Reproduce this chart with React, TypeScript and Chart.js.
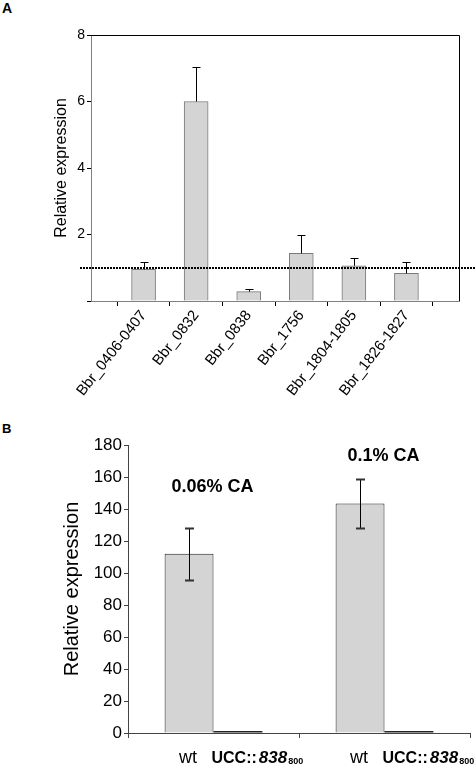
import React, { useEffect, useRef } from 'react';
import { Chart, registerables } from 'chart.js';

Chart.register(...registerables);

// ---------- Panel A data ----------
const genesA = ['Bbr_0406-0407', 'Bbr_0832', 'Bbr_0838', 'Bbr_1756', 'Bbr_1804-1805', 'Bbr_1826-1827'];
const valuesA = [0.95, 6.0, 0.28, 1.43, 1.06, 0.83];
const errorsA = [0.23, 1.04, 0.09, 0.57, 0.24, 0.35];
const yMaxA = 8;
const yStepA = 2;
const baselineA = 1;

// ---------- Panel B data ----------
const conditionsB = ['0.06% CA', '0.1% CA'];
const conditionLabelYB = [154, 173];
const wtB = [112, 143.5];
const wtErrB = [16.4, 15.5];
const mutantB = [1.2, 1.2];
const wtLabelB = 'wt';
const mutantLabelB = ['UCC::', '838', '800'];
const yMaxB = 180;
const yStepB = 20;

const FONT = '"Liberation Sans", Arial, Helvetica, sans-serif';

const panelAPlugin = {
  id: 'panelAExtras',
  afterDatasetsDraw(chart: any) {
    const { ctx, chartArea: ca, scales } = chart;
    const meta = chart.getDatasetMeta(0);
    ctx.save();
    ctx.strokeStyle = '#000';
    ctx.lineWidth = 1;
    meta.data.forEach((el: any, i: number) => {
      const x = Math.round(el.x) + 0.5;
      const yTop = Math.round(scales.y.getPixelForValue(valuesA[i] + errorsA[i])) + 0.5;
      ctx.beginPath();
      ctx.moveTo(x, el.y);
      ctx.lineTo(x, yTop);
      ctx.moveTo(x - 4, yTop);
      ctx.lineTo(x + 4, yTop);
      ctx.stroke();
    });
    // dotted baseline
    const yb = Math.round(scales.y.getPixelForValue(baselineA));
    ctx.setLineDash([2, 1]);
    ctx.lineWidth = 2;
    ctx.beginPath();
    ctx.moveTo(80, yb);
    ctx.lineTo(chart.width, yb);
    ctx.stroke();
    ctx.setLineDash([]);
    // top & right frame
    ctx.lineWidth = 1;
    ctx.beginPath();
    ctx.moveTo(ca.left, Math.round(ca.top) + 0.5);
    ctx.lineTo(Math.round(ca.right) + 0.5, Math.round(ca.top) + 0.5);
    ctx.lineTo(Math.round(ca.right) + 0.5, ca.bottom);
    ctx.stroke();
    ctx.restore();
  },
};

const panelBPlugin = {
  id: 'panelBExtras',
  afterDatasetsDraw(chart: any) {
    const { ctx, scales } = chart;
    const meta = chart.getDatasetMeta(0);
    const metaM = chart.getDatasetMeta(1);
    ctx.save();
    // error bars
    meta.data.forEach((el: any, i: number) => {
      const x = Math.round(el.x) + 0.5;
      const yHi = Math.round(scales.y.getPixelForValue(wtB[i] + wtErrB[i])) + 0.5;
      const yLo = Math.round(scales.y.getPixelForValue(wtB[i] - wtErrB[i])) + 0.5;
      ctx.strokeStyle = '#000';
      ctx.lineWidth = 1;
      ctx.beginPath();
      ctx.moveTo(x, yHi);
      ctx.lineTo(x, yLo);
      ctx.stroke();
      ctx.strokeStyle = '#333';
      ctx.lineWidth = 2;
      ctx.beginPath();
      ctx.moveTo(x - 4.5, yHi);
      ctx.lineTo(x + 4.5, yHi);
      ctx.moveTo(x - 4.5, yLo);
      ctx.lineTo(x + 4.5, yLo);
      ctx.stroke();
    });
    // condition labels
    ctx.fillStyle = '#000';
    ctx.font = `bold 18px ${FONT}`;
    ctx.textAlign = 'center';
    ctx.textBaseline = 'middle';
    conditionsB.forEach((c, i) => {
      const x = scales.x.getPixelForValue(i);
      const y = scales.y.getPixelForValue(conditionLabelYB[i]);
      ctx.fillText(c, x - 1, y);
    });
    // strain labels
    const baseY = chart.height - 1;
    ctx.textBaseline = 'alphabetic';
    meta.data.forEach((el: any) => {
      ctx.font = `18px ${FONT}`;
      ctx.textAlign = 'center';
      ctx.fillText(wtLabelB, el.x - 1, baseY);
    });
    metaM.data.forEach((el: any) => {
      ctx.textAlign = 'left';
      let x = el.x - el.width / 2 - 2;
      ctx.font = `bold 16px ${FONT}`;
      ctx.fillText(mutantLabelB[0], x, baseY);
      x += ctx.measureText(mutantLabelB[0]).width + 2;
      ctx.font = `italic bold 17px ${FONT}`;
      ctx.fillText(mutantLabelB[1], x, baseY);
      x += ctx.measureText(mutantLabelB[1]).width + 1;
      ctx.font = `bold 9px ${FONT}`;
      ctx.fillText(mutantLabelB[2], x, baseY + 1);
    });
    ctx.restore();
  },
};

export default function App() {
  const refA = useRef<HTMLCanvasElement>(null);
  const refB = useRef<HTMLCanvasElement>(null);

  useEffect(() => {
    const chartA = new Chart(refA.current as HTMLCanvasElement, {
      type: 'bar',
      data: {
        datasets: [
          {
            data: valuesA.map((v, i) => ({ x: i + 1, y: v })),
            backgroundColor: '#d4d4d4',
            borderColor: '#7a7a7a',
            borderWidth: 1,
            barThickness: 24,
          },
        ],
      },
      options: {
        responsive: false,
        animation: false,
        layout: { padding: { left: 0, right: 16, top: 35, bottom: 0 } },
        plugins: { legend: { display: false }, tooltip: { enabled: false } },
        scales: {
          x: {
            type: 'linear',
            min: 0,
            max: 7,
            offset: false,
            afterFit: (s: any) => {
              s.height = 109;
            },
            grid: { drawOnChartArea: false, tickLength: 5, color: '#000' },
            border: { color: '#808080' },
            ticks: {
              stepSize: 1,
              autoSkip: false,
              minRotation: 52,
              maxRotation: 52,
              padding: 1,
              color: '#000',
              font: { family: FONT, size: 15 },
              callback: (v: any) => (v >= 1 && v <= genesA.length ? genesA[v - 1] : ''),
            },
          },
          y: {
            min: 0,
            max: yMaxA,
            afterFit: (s: any) => {
              s.width = 91;
            },
            grid: { drawOnChartArea: false, tickLength: 4, color: '#000' },
            border: { color: '#808080' },
            ticks: {
              stepSize: yStepA,
              padding: 2,
              color: '#000',
              font: { family: FONT, size: 14 },
              callback: (v: any) => (v === 0 ? '' : String(v)),
            },
            title: {
              display: true,
              text: 'Relative expression',
              color: '#000',
              font: { family: FONT, size: 16 },
              padding: { top: 52, bottom: 0 },
            },
          },
        },
      } as any,
      plugins: [panelAPlugin],
    });

    const chartB = new Chart(refB.current as HTMLCanvasElement, {
      type: 'bar',
      data: {
        labels: conditionsB,
        datasets: [
          {
            data: wtB,
            backgroundColor: '#d4d4d4',
            borderColor: '#222',
            borderWidth: 1,
          },
          {
            data: mutantB,
            backgroundColor: '#222',
            borderColor: '#222',
            borderWidth: 0,
          },
        ],
      },
      options: {
        responsive: false,
        animation: false,
        datasets: { bar: { categoryPercentage: 0.572, barPercentage: 1 } },
        layout: { padding: { left: 0, right: 5, top: 35, bottom: 0 } },
        plugins: { legend: { display: false }, tooltip: { enabled: false } },
        scales: {
          x: {
            afterFit: (s: any) => {
              s.height = 31;
            },
            grid: { drawOnChartArea: false, tickLength: 5, color: '#444', offset: true },
            border: { color: '#444' },
            ticks: { callback: () => '' },
          },
          y: {
            min: 0,
            max: yMaxB,
            afterFit: (s: any) => {
              s.width = 128;
            },
            grid: { drawOnChartArea: false, tickLength: 4, color: '#444' },
            border: { color: '#444' },
            ticks: {
              stepSize: yStepB,
              padding: 2,
              color: '#000',
              font: { family: FONT, size: 17 },
            },
            title: {
              display: true,
              text: 'Relative expression',
              color: '#000',
              font: { family: FONT, size: 20 },
              padding: { top: 60, bottom: 0 },
            },
          },
        },
      } as any,
      plugins: [panelBPlugin],
    });

    return () => {
      chartA.destroy();
      chartB.destroy();
    };
  }, []);

  const letter: React.CSSProperties = {
    position: 'absolute',
    fontFamily: FONT,
    fontWeight: 'bold',
    fontSize: 14,
    lineHeight: '14px',
    color: '#000',
  };

  return (
    <div style={{ position: 'absolute', left: 0, top: 0, width: 475, height: 764, background: '#fff', overflow: 'hidden' }}>
      <div style={{ ...letter, left: 2, top: 1 }}>A</div>
      <canvas ref={refA} width={475} height={410} style={{ position: 'absolute', left: 0, top: 0 }} />
      <div style={{ ...letter, left: 2, top: 422, fontSize: 13 }}>B</div>
      <canvas ref={refB} width={475} height={354} style={{ position: 'absolute', left: 0, top: 410 }} />
    </div>
  );
}
